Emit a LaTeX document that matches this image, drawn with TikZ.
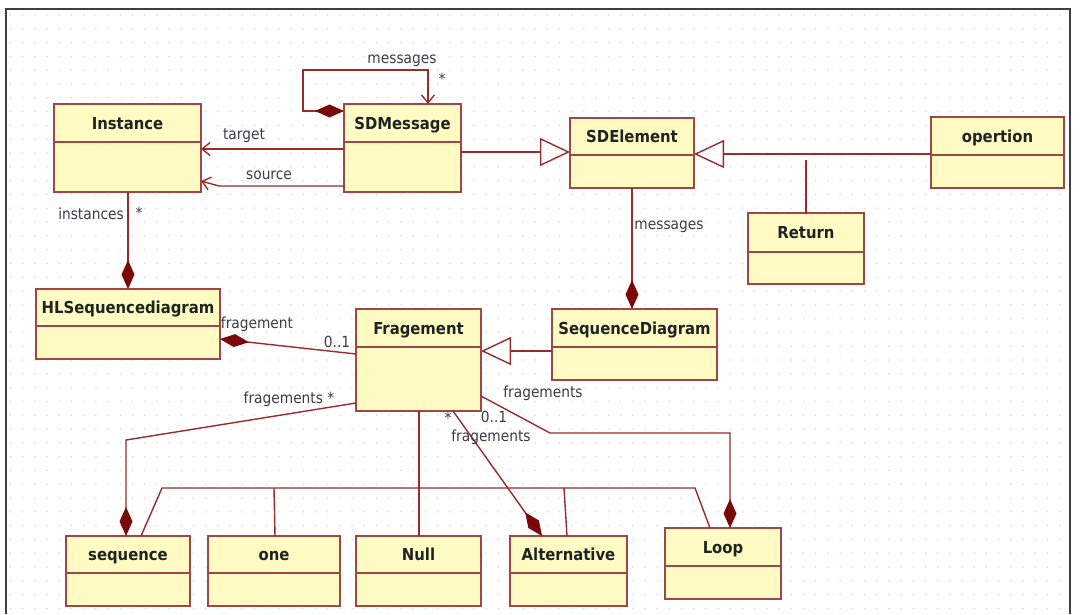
\documentclass[tikz,border=0pt]{standalone}
\usepackage{fontspec}
\newfontfamily\umlfont{DejaVu Sans Condensed}
\usetikzlibrary{arrows.meta,calc}

\definecolor{boxfill}{HTML}{FFFBC2}
\definecolor{boxline}{HTML}{A04646}
\definecolor{connc}{HTML}{982C2C}
\definecolor{diamc}{HTML}{7A0A0A}
\definecolor{titlec}{HTML}{1C2424}
\definecolor{lblc}{HTML}{3C3C48}
\definecolor{griddot}{HTML}{D4D4D4}
\definecolor{framec}{HTML}{404040}

\tikzset{
  classbox/.style={draw=boxline, fill=boxfill, line width=1.4pt, rectangle,
                   inner sep=0pt, outer sep=0pt},
  classtitle/.style={font=\umlfont\bfseries\fontsize{16.5}{18}\selectfont,
                     text=titlec, inner sep=0pt, anchor=base},
  lbl/.style={font=\umlfont\fontsize{15.3}{17}\selectfont, text=lblc,
              inner sep=0pt, anchor=base},
  mult/.style={font=\umlfont\fontsize{15.3}{17}\selectfont, text=lblc,
               inner sep=0pt, anchor=center},
  conn/.style={draw=connc, line width=1.4pt},
  comp/.style={conn, -{Diamond[length=29pt,width=13pt,color=diamc]}},
  nav/.style={conn, -{Straight Barb[length=8pt,width=13pt]}},
  gen/.style={conn, -{Triangle[open,fill=white,length=30pt,width=28pt]}},
}

% class box: name, left, top, right, bottom, divider, title
\newcommand\umlclass[7]{%
  \node[classbox, anchor=north west,
        minimum width={(#4-#2)*1pt}, minimum height={(#5-#3)*1pt}] (#1) at (#2,#3) {};
  \draw[boxline, line width=1.4pt] (#2,#6) -- (#4,#6);
  \node[classtitle] (#1-title) at ({(#2+#4)/2},{(#3+#6)/2+6}) {#7};
}

\begin{document}
\begin{tikzpicture}[x=1pt,y=-1pt]
\useasboundingbox (0,0) rectangle (1080,614);
\fill[white] (0,0) rectangle (1080,614);

% dotted drawing grid
\foreach \i in {0,...,86} {
  \foreach \j in {0,...,43} {
    \fill[griddot] ({10.5+12.2*\i},{15+13.8*\j}) circle (0.75pt);
  }
}

% canvas frame
\draw[framec, line width=2pt] (6,614) -- (6,9) -- (1070,9) -- (1070,614);

% classes
\umlclass{inst}{54}{104}{201}{192}{142}{Instance}
\umlclass{sdmsg}{344}{104}{461}{192}{142}{SDMessage}
\umlclass{sdel}{570}{118}{694}{188}{155}{SDElement}
\umlclass{oper}{931}{117}{1064}{188}{155}{opertion}
\umlclass{ret}{748}{213}{864}{284}{252}{Return}
\umlclass{hl}{36}{289}{220}{359}{326}{HLSequencediagram}
\umlclass{fr}{356}{309}{481}{411}{347}{Fragement}
\umlclass{sd}{552}{309}{717}{380}{347}{SequenceDiagram}
\umlclass{seq}{66}{536}{190}{606}{573}{sequence}
\umlclass{one}{208}{536}{340}{606}{573}{one}
\umlclass{null}{356}{536}{481}{606}{573}{Null}
\umlclass{alt}{510}{536}{627}{606}{573}{Alternative}
\umlclass{loop}{665}{528}{781}{599}{566}{Loop}

% SDMessage self composition
\draw[conn, {Diamond[length=29pt,width=13pt,color=diamc]}-{Straight Barb[length=8pt,width=13pt]}]
  (sdmsg.west |- 0,111) -- (303,111) -- (303,70) -- (428,70) -- (sdmsg.north -| 428,0);
\node[lbl] (l-msgs) at (402,63) {messages};
\node[mult] (m-msgs) at (442,79) {*};

% target / source
\draw[nav] (sdmsg.west |- 0,149) -- (inst.east |- 0,149);
\draw[nav] (sdmsg.west |- 0,186) -- (219,186) -- (inst.east |- 0,181);
\node[lbl] (l-target) at (244,139) {target};
\node[lbl] (l-source) at (269,179) {source};

% generalisations to SDElement
\draw[gen] (sdmsg.east |- 0,152) -- (sdel.west |- 0,152);
\draw[gen] (oper.west |- 0,154) -- (sdel.east |- 0,154);
\draw[conn] (ret.north -| 806,0) -- (806,160);

% SDElement - SequenceDiagram
\draw[comp] (sdel.south -| 632,0) -- (sd.north -| 632,0);
\node[lbl] (l-sdmsgs) at (669,229) {messages};

% Instance - HLSequencediagram
\draw[comp] (inst.south -| 128,0) -- (hl.north -| 128,0);
\node[lbl] (l-inst) at (91,219) {instances};
\node[mult] (m-inst) at (139,213) {*};

% Fragement - HLSequencediagram
\draw[comp] (fr.west |- 0,354) -- (hl.east |- 0,339);
\node[lbl] (l-frag) at (257,328) {fragement};
\node[lbl] (m-frag) at (337,347) {0..1};

% SequenceDiagram generalises Fragement
\draw[gen] (sd.west |- 0,351) -- (fr.east |- 0,351);

% fragments owned by the combined fragments
\draw[comp] (fr.west |- 0,403) -- (126,440) -- (seq.north -| 126,0);
\node[lbl] (l-seq) at (289,403) {fragements *};
\draw[conn] (fr.south -| 419,0) -- (null.north -| 419,0);
\draw[comp] (fr.south -| 453,0) -- (alt.north -| 542,0);
\node[mult] (m-alt) at (448,418) {*};
\node[lbl] (m-alt2) at (494,422) {0..1};
\node[lbl] (l-alt) at (491,441) {fragements};
\draw[comp] (fr.east |- 0,396) -- (550,433) -- (730,433) -- (loop.north -| 730,0);
\node[lbl] (l-loop) at (543,397) {fragements};

% bar joining the fragment kinds
\draw[conn] (seq.north -| 141,0) -- (162,488) -- (695,488) -- (loop.north -| 710,0);
\draw[conn] (one.north -| 275,0) -- (274,488);
\draw[conn] (alt.north -| 567,0) -- (564,488);
\end{tikzpicture}
\end{document}
